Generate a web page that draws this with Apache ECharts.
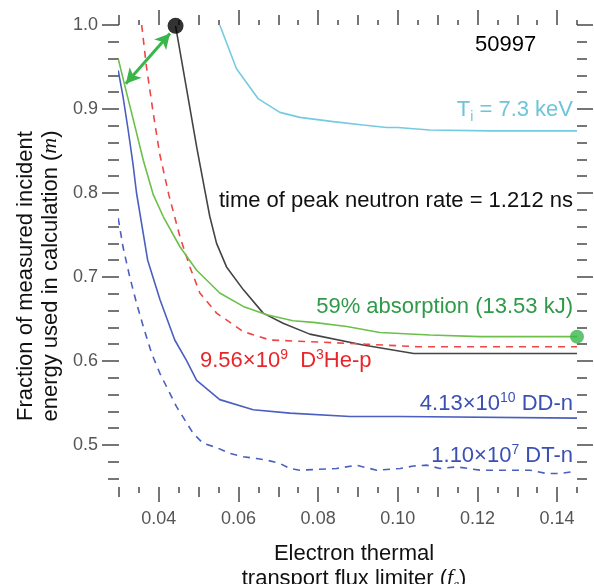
<!DOCTYPE html>
<html>
<head>
<meta charset="utf-8">
<script src="https://cdn.jsdelivr.net/npm/echarts@6/dist/echarts.min.js"></script>
<style>
  html, body { margin: 0; padding: 0; background: #fff; }
  #chart { width: 594px; height: 584px; }
</style>
</head>
<body>
<div id="chart"></div>
<script>
// tick positions
var xMajor = [0.04, 0.06, 0.08, 0.10, 0.12, 0.14];
var xMid = [0.03, 0.05, 0.07, 0.09, 0.11, 0.13];
var xMinor = [0.035, 0.045, 0.055, 0.065, 0.075, 0.085, 0.095, 0.105, 0.115, 0.125, 0.135, 0.145];
var yMajor = [0.5, 0.6, 0.7, 0.8, 0.9, 1.0];
var yMinor = [0.46, 0.48, 0.52, 0.54, 0.56, 0.58, 0.62, 0.64, 0.66, 0.68, 0.72, 0.74, 0.76, 0.78, 0.82, 0.84, 0.86, 0.88, 0.92, 0.94, 0.96, 0.98];

// Ti = 7.3 keV
var tiX = [0.0553, 0.0595, 0.0650, 0.0704, 0.0754, 0.0838, 0.0913, 0.0972, 0.1000, 0.1080, 0.1230, 0.1450];
var tiY = [1.000, 0.948, 0.912, 0.896, 0.890, 0.885, 0.881, 0.878, 0.878, 0.875, 0.874, 0.874];
// time of peak neutron rate
var peakX = [0.0442, 0.0470, 0.0495, 0.0516, 0.0528, 0.0545, 0.0570, 0.0612, 0.0662, 0.0712, 0.0779, 0.0913, 0.1040, 0.1450];
var peakY = [0.999, 0.923, 0.855, 0.802, 0.772, 0.740, 0.712, 0.685, 0.657, 0.645, 0.632, 0.619, 0.609, 0.609];
// D3He-p
var d3heX = [0.0357, 0.0369, 0.0386, 0.0402, 0.0425, 0.0453, 0.0478, 0.0503, 0.0545, 0.0612, 0.0679, 0.0779, 0.0920, 0.1050, 0.1450];
var d3heY = [1.000, 0.950, 0.895, 0.847, 0.798, 0.748, 0.712, 0.681, 0.657, 0.635, 0.625, 0.623, 0.620, 0.617, 0.617];
// 59% absorption
var absX = [0.0298, 0.0315, 0.0336, 0.0361, 0.0386, 0.0411, 0.0453, 0.0495, 0.0553, 0.0612, 0.0671, 0.0737, 0.0788, 0.0872, 0.0955, 0.1081, 0.1207, 0.1450];
var absY = [0.960, 0.927, 0.887, 0.839, 0.798, 0.772, 0.736, 0.708, 0.681, 0.665, 0.655, 0.648, 0.646, 0.641, 0.634, 0.631, 0.629, 0.629];
// DD-n
var ddX = [0.0298, 0.0310, 0.0323, 0.0335, 0.0344, 0.0372, 0.0403, 0.0440, 0.0469, 0.0495, 0.0553, 0.0637, 0.0729, 0.0880, 0.1006, 0.1450];
var ddY = [0.946, 0.915, 0.875, 0.835, 0.800, 0.720, 0.673, 0.625, 0.601, 0.577, 0.554, 0.542, 0.538, 0.534, 0.534, 0.532];
// DT-n
var dtX = [0.0298, 0.0310, 0.0327, 0.0344, 0.0361, 0.0382, 0.0403, 0.0444, 0.0486, 0.0511, 0.0545, 0.0578, 0.0612, 0.0645, 0.0671, 0.0704, 0.0729, 0.0754, 0.0800, 0.0846, 0.0896, 0.0947, 0.1006, 0.1039, 0.1073, 0.1106, 0.1148, 0.1207, 0.1332, 0.1374, 0.1408, 0.1437];
var dtY = [0.770, 0.736, 0.700, 0.669, 0.641, 0.609, 0.585, 0.546, 0.514, 0.502, 0.497, 0.490, 0.486, 0.484, 0.482, 0.478, 0.472, 0.470, 0.471, 0.472, 0.476, 0.470, 0.472, 0.475, 0.476, 0.472, 0.474, 0.470, 0.470, 0.466, 0.466, 0.468];

// markers
var peakDot = [0.0442, 0.999];
var absDot = [0.145, 0.629];
var arrowFrom = [0.0317, 0.930];
var arrowTo = [0.0428, 0.990];

function pairs(xs, ys) {
    var out = [];
    for (var i = 0; i < xs.length; i++) {
        out.push([xs[i], ys[i]]);
    }
    return out;
}

var FONT = 'Liberation Sans';
var TICK = '#4a4a4a';

function xAx(pos, vals, len, label) {
    return {
        type: 'value', position: pos, min: 0.03, max: 0.145,
        axisLine: { show: false, onZero: false },
        splitLine: { show: false },
        axisTick: { show: true, length: len, customValues: vals, lineStyle: { color: TICK, width: 1.5 } },
        axisLabel: label ? {
            show: true, customValues: vals, margin: 23, color: '#555', fontSize: 18, fontFamily: FONT,
            formatter: function (v) { return v.toFixed(2); }
        } : { show: false }
    };
}
function yAx(pos, vals, len, label) {
    return {
        type: 'value', position: pos, min: 0.45, max: 1.0,
        axisLine: { show: false, onZero: false },
        splitLine: { show: false },
        axisTick: { show: true, length: len, customValues: vals, lineStyle: { color: TICK, width: 1.5 } },
        axisLabel: label ? {
            show: true, customValues: vals, margin: 21, color: '#555', fontSize: 18, fontFamily: FONT,
            formatter: function (v) { return v.toFixed(1); }
        } : { show: false }
    };
}

function lineSeries(name, data, color, dashed) {
    return {
        name: name, type: 'line', data: data, showSymbol: false, symbol: 'none',
        xAxisIndex: 0, yAxisIndex: 0,
        lineStyle: { color: color, width: 1.6, type: dashed ? [7, 6] : 'solid' }
    };
}

var chart = echarts.init(document.getElementById('chart'));

var absSeries = lineSeries('abs', pairs(absX, absY), '#6cc04a', false);
absSeries.markLine = {
    silent: true, animation: false,
    symbol: ['arrow', 'arrow'], symbolSize: [12, 15],
    label: { show: false },
    lineStyle: { color: '#3ab54a', width: 3, type: 'solid' },
    data: [[{ coord: arrowFrom }, { coord: arrowTo }]]
};

var sup = { fontSize: 14, verticalAlign: 'top', lineHeight: 12, fontFamily: FONT };
var big = { fontSize: 22, fontFamily: FONT, lineHeight: 25 };

var option = {
    animation: false,
    grid: { left: 119, right: 17, top: 25, bottom: 97, containLabel: false },
    xAxis: [
        xAx('bottom', xMajor, 15, true),
        xAx('bottom', xMid, 10, false),
        xAx('bottom', xMinor, 6, false),
        xAx('top', xMajor, 15, false),
        xAx('top', xMid, 10, false),
        xAx('top', xMinor, 5, false)
    ],
    yAxis: [
        yAx('left', yMajor, 17, true),
        yAx('left', yMinor, 11, false),
        yAx('right', yMajor, 16, false),
        yAx('right', yMinor, 10, false)
    ],
    series: [
        lineSeries('ti', pairs(tiX, tiY), '#74cbe0', false),
        lineSeries('peak', pairs(peakX, peakY), '#444', false),
        lineSeries('d3he', pairs(d3heX, d3heY), '#f04545', true),
        absSeries,
        lineSeries('dd', pairs(ddX, ddY), '#4a5fbf', false),
        lineSeries('dt', pairs(dtX, dtY), '#4a5fbf', true),
        {
            type: 'scatter', clip: false, symbolSize: 16, data: [peakDot],
            itemStyle: { color: '#000' }, z: 10
        },
        {
            type: 'scatter', clip: false, symbolSize: 14, data: [absDot],
            itemStyle: { color: '#3ab54a' }, z: 10
        }
    ],
    graphic: [
        { type: 'text', left: 475, top: 34, style: { text: '50997', fill: '#000', font: '22px ' + FONT } },
        {
            type: 'text', right: 21, top: 97,
            style: {
                text: '{b|T}{s|i}{b| = 7.3 keV}', fill: '#6cc5d9',
                rich: { b: { fontSize: 22, fontFamily: FONT, lineHeight: 25, verticalAlign: 'top' }, s: { fontSize: 14, fontFamily: FONT, verticalAlign: 'bottom', lineHeight: 12, padding: [13, 0, 0, 0] } }
            }
        },
        { type: 'text', right: 21, top: 190, style: { text: 'time of peak neutron rate = 1.212 ns', fill: '#111', font: '22px ' + FONT } },
        { type: 'text', right: 21, top: 296, style: { text: '59% absorption (13.53 kJ)', fill: '#2f9a48', font: '22px ' + FONT } },
        {
            type: 'text', left: 200, top: 348,
            style: {
                text: '{b|9.56×10}{s|9}{b|  D}{s|3}{b|He-p}', fill: '#e8262a',
                rich: { b: big, s: sup }
            }
        },
        {
            type: 'text', right: 21, top: 391,
            style: {
                text: '{b|4.13×10}{s|10}{b| DD-n}', fill: '#3b50b4',
                rich: { b: big, s: sup }
            }
        },
        {
            type: 'text', right: 21, top: 443,
            style: {
                text: '{b|1.10×10}{s|7}{b| DT-n}', fill: '#3b50b4',
                rich: { b: big, s: sup }
            }
        },
        {
            type: 'text', x: 354, y: 566,
            style: {
                text: '{n|Electron thermal}\n{n|transport flux limiter (}{i|f}{e|e}{n|)}',
                fill: '#111', align: 'center', verticalAlign: 'middle',
                rich: {
                    n: { fontSize: 22, fontFamily: FONT, lineHeight: 25 },
                    i: { fontSize: 22, fontFamily: 'Liberation Serif', fontStyle: 'italic', lineHeight: 25 },
                    e: { fontSize: 13, fontFamily: 'Liberation Serif', fontStyle: 'italic', verticalAlign: 'bottom', lineHeight: 14 }
                }
            }
        },
        {
            type: 'text', x: 38, y: 276, rotation: Math.PI / 2,
            style: {
                text: '{n|Fraction of measured incident}\n{n|energy used in calculation (}{i|m}{n|)}',
                fill: '#111', align: 'center', verticalAlign: 'middle',
                rich: {
                    n: { fontSize: 22, fontFamily: FONT, lineHeight: 25 },
                    i: { fontSize: 22, fontFamily: 'Liberation Serif', fontStyle: 'italic', lineHeight: 25 }
                }
            }
        }
    ]
};

chart.setOption(option);
window.addEventListener('resize', function () {
    chart.resize();
});
</script>
</body>
</html>
